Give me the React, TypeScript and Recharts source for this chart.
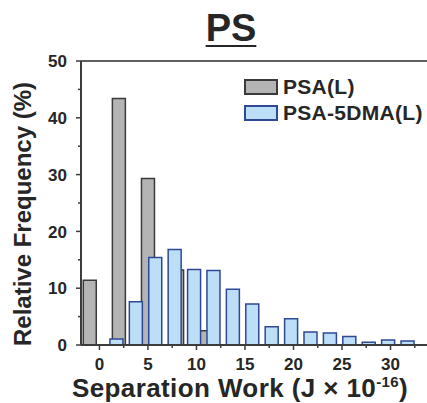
import React from 'react';
import {
  BarChart, Bar, XAxis, YAxis, ReferenceLine, Label, Rectangle,
} from 'recharts';

// histogram bins, x = bin centre (J x 10^-16), y = relative frequency (%)
const psaX = [-1, 2, 5, 8, 11];
const psaY = [11.4, 43.4, 29.3, 13.2, 2.5];

const dmaX = [1.75, 3.75, 5.75, 7.75, 9.75, 11.75, 13.75, 15.75, 17.75, 19.75, 21.75, 23.75, 25.75, 27.75, 29.75, 31.75];
const dmaY = [1.05, 7.6, 15.4, 16.8, 13.3, 13.1, 9.8, 7.2, 3.2, 4.6, 2.3, 2.1, 1.5, 0.5, 0.9, 0.7];

const xTicks = [0, 2.5, 5, 7.5, 10, 12.5, 15, 17.5, 20, 22.5, 25, 27.5, 30, 32.5];
const yTicks = [0, 5, 10, 15, 20, 25, 30, 35, 40, 45, 50];

const FONT = '"Liberation Sans", Arial, sans-serif';
const INK = '#262626';
const AXIS = '#3c3c3c';

const GRAY_FILL = '#b4b4b4';
const GRAY_LINE = '#3a3a3a';
const BLUE_FILL = '#bcdff7';
const BLUE_LINE = '#2f4894';

const rows = [
  ...psaX.map((x, i) => ({ x, psa: psaY[i], dma: 0 })),
  ...dmaX.map((x, i) => ({ x, psa: 0, dma: dmaY[i] })),
].sort((a, b) => a.x - b.x);

const BAR_W = 13;
const X_TICK_SIZE = 6;
const X_TICK_MARGIN = 7;
const Y_TICK_SIZE = 6;
const Y_TICK_MARGIN = 8;

// keep recharts' bar centre, but give every bin the same width
const HistBar = (p: any) => (
  <Rectangle {...p} x={p.x + p.width / 2 - BAR_W / 2} width={BAR_W} />
);

const XTick = (props: any) => {
  const { x, y, payload } = props;
  const v = payload.value as number;
  const major = v % 5 === 0;
  const axisY = y - X_TICK_SIZE - X_TICK_MARGIN;
  return (
    <g>
      <line x1={x} x2={x} y1={axisY} y2={axisY + (major ? 5 : 3)} stroke={AXIS} strokeWidth={1.5} />
      {major && (
        <text x={x} y={y} dy="0.71em" textAnchor="middle" fontSize={17} fontWeight="bold" fill={INK} fontFamily={FONT}>
          {v}
        </text>
      )}
    </g>
  );
};

const YTick = (props: any) => {
  const { x, y, payload } = props;
  const v = payload.value as number;
  const major = v % 10 === 0;
  const axisX = x + Y_TICK_SIZE + Y_TICK_MARGIN;
  return (
    <g>
      <line x1={axisX - (major ? 5 : 3)} x2={axisX} y1={y} y2={y} stroke={AXIS} strokeWidth={1.5} />
      {major && (
        <text x={x} y={y} dy="0.36em" textAnchor="end" fontSize={17} fontWeight="bold" fill={INK} fontFamily={FONT}>
          {v}
        </text>
      )}
    </g>
  );
};

const legendItems = [
  { label: 'PSA(L)', fill: GRAY_FILL, line: GRAY_LINE },
  { label: 'PSA-5DMA(L)', fill: BLUE_FILL, line: BLUE_LINE },
];

export default function App() {
  return (
    <div style={{ position: 'absolute', left: 0, top: 0, width: 427, height: 403, background: '#fff' }}>
      <div style={{
        position: 'absolute', left: 0, top: 9, width: 462, textAlign: 'center',
        fontFamily: FONT, fontWeight: 'bold', fontSize: 38, lineHeight: '38px', color: INK,
        textDecoration: 'underline', textDecorationThickness: 2, textUnderlineOffset: 4,
      }}>
        PS
      </div>
      <BarChart width={427} height={403} data={rows} margin={{ top: 61, right: 0, bottom: 0, left: 0 }}>
        <XAxis
          dataKey="x"
          type="number"
          domain={[-1.9, 33.76]}
          allowDataOverflow
          ticks={xTicks}
          interval={0}
          height={58}
          tickSize={X_TICK_SIZE}
          tickMargin={X_TICK_MARGIN}
          tickLine={false}
          tick={<XTick />}
          axisLine={{ stroke: AXIS, strokeWidth: 2 }}
        >
          <Label
            content={() => (
              <text x={240} y={397} textAnchor="middle" fontSize={26} letterSpacing={0.4} fontWeight="bold" fill={INK} fontFamily={FONT}>
                Separation Work (J × 10
                <tspan dy={-10} fontSize={15}>-16</tspan>
                <tspan dy={10}>)</tspan>
              </text>
            )}
          />
        </XAxis>
        <YAxis
          type="number"
          domain={[0, 50]}
          ticks={yTicks}
          interval={0}
          width={81}
          tickSize={Y_TICK_SIZE}
          tickMargin={Y_TICK_MARGIN}
          tickLine={false}
          tick={<YTick />}
          axisLine={{ stroke: AXIS, strokeWidth: 2 }}
        >
          <Label
            content={() => (
              <text transform="translate(31, 214) rotate(-90)" textAnchor="middle" fontSize={24} fontWeight="bold" fill={INK} fontFamily={FONT}>
                Relative Frequency (%)
              </text>
            )}
          />
        </YAxis>
        <ReferenceLine y={50} stroke="#606060" strokeWidth={2} />
        <Bar dataKey="psa" stackId="h" fill={GRAY_FILL} stroke={GRAY_LINE} strokeWidth={1.5} shape={HistBar} isAnimationActive={false} />
        <Bar dataKey="dma" stackId="h" fill={BLUE_FILL} stroke={BLUE_LINE} strokeWidth={1.5} shape={HistBar} isAnimationActive={false} />
      </BarChart>
      <div style={{
        position: 'absolute', left: 244, top: 74, fontFamily: FONT, fontWeight: 'bold', fontSize: 21,
        letterSpacing: 0.3, color: INK,
      }}>
        {legendItems.map((it) => (
          <div key={it.label} style={{ display: 'flex', alignItems: 'center', height: 26 }}>
            <span style={{
              display: 'inline-block', width: 30, height: 12, background: it.fill,
              border: `2px solid ${it.line}`, marginRight: 5,
            }} />
            <span>{it.label}</span>
          </div>
        ))}
      </div>
    </div>
  );
}
